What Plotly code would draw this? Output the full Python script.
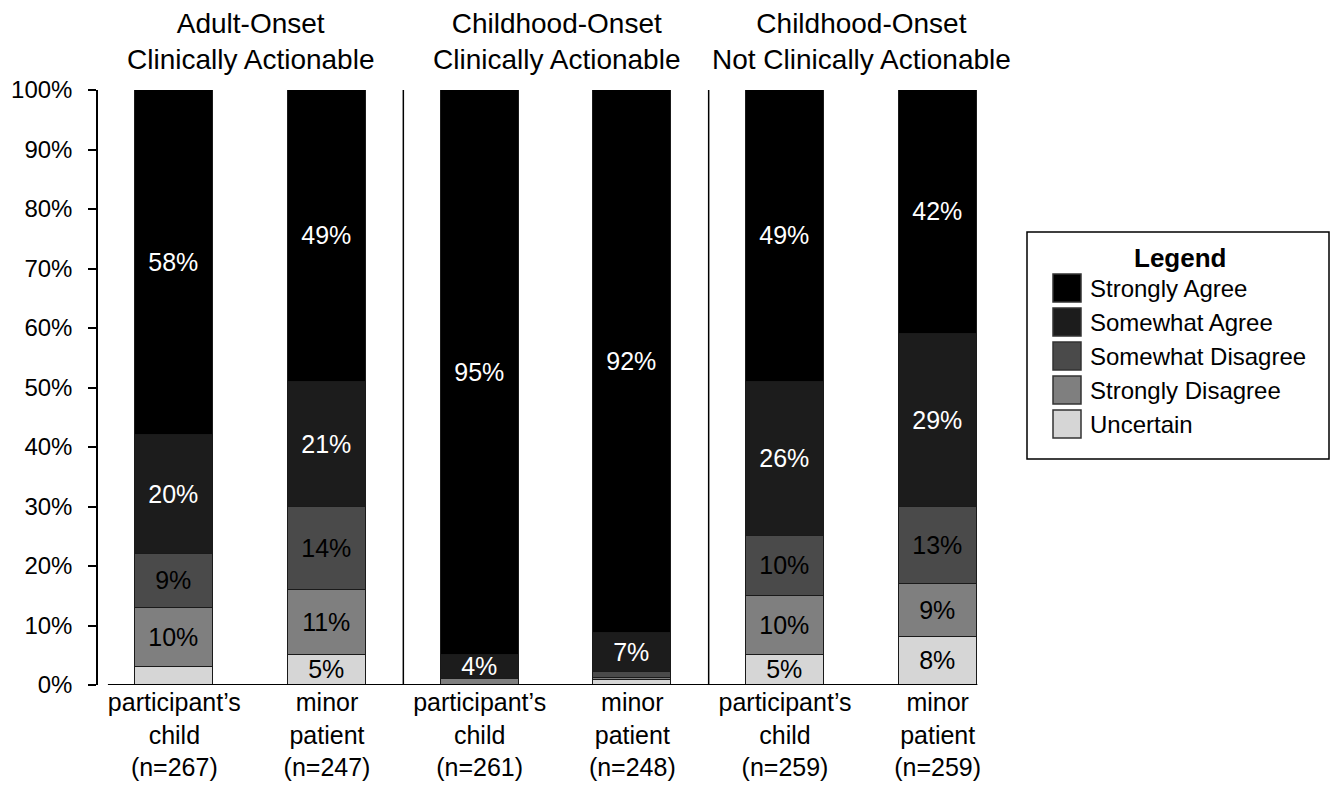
import plotly.graph_objects as go

# ---------------- data ----------------
categories = [
    "participant’s<br>child<br>(n=267)",
    "minor<br>patient<br>(n=247)",
    "participant’s<br>child<br>(n=261)",
    "minor<br>patient<br>(n=248)",
    "participant’s<br>child<br>(n=259)",
    "minor<br>patient<br>(n=259)",
]
group_titles = [
    "Adult-Onset<br>Clinically Actionable",
    "Childhood-Onset<br>Clinically Actionable",
    "Childhood-Onset<br>Not Clinically Actionable",
]
series_names = ["Uncertain", "Strongly Disagree", "Somewhat Disagree",
                "Somewhat Agree", "Strongly Agree"]

uncertain = [3, 5, 0, 0.8, 5, 8]
strongly_disagree = [10, 11, 1, 0.4, 10, 9]
somewhat_disagree = [9, 14, 0, 1, 10, 13]
somewhat_agree = [20, 21, 4, 6.5, 26, 29]
strongly_agree = [58, 49, 95, 91.3, 49, 41]

uncertain_labels = ["", "5%", "", "", "5%", "8%"]
strongly_disagree_labels = ["10%", "11%", "", "", "10%", "9%"]
somewhat_disagree_labels = ["9%", "14%", "", "", "10%", "13%"]
somewhat_agree_labels = ["20%", "21%", "4%", "7%", "26%", "29%"]
strongly_agree_labels = ["58%", "49%", "95%", "92%", "49%", "42%"]

y_ticks = [0, 10, 20, 30, 40, 50, 60, 70, 80, 90, 100]

# ---------------- styles ----------------
FONT = "Liberation Sans, Arial, sans-serif"
colors = ["#d6d6d6", "#7f7f7f", "#4a4a4a", "#1c1c1c", "#000000"]
text_colors = ["black", "black", "black", "white", "white"]
values = [uncertain, strongly_disagree, somewhat_disagree, somewhat_agree, strongly_agree]
labels = [uncertain_labels, strongly_disagree_labels, somewhat_disagree_labels,
          somewhat_agree_labels, strongly_agree_labels]

xpos = list(range(len(categories)))

fig = go.Figure()
for name, vals, lab, col, tcol in zip(series_names, values, labels, colors, text_colors):
    fig.add_trace(go.Bar(
        x=xpos, y=vals, name=name,
        marker=dict(color=col, line=dict(color="#1a1a1a", width=1.5)),
        width=0.51,
        text=lab, textposition="inside", insidetextanchor="middle",
        textfont=dict(color=tcol, size=25, family=FONT),
        hoverinfo="skip", showlegend=False,
    ))

# group separators
for xs in [1.5, 3.5]:
    fig.add_shape(type="line", xref="x", yref="y", x0=xs, x1=xs, y0=0, y1=100.5,
                  line=dict(color="black", width=1.5))
# x axis baseline
fig.add_shape(type="line", xref="x", yref="y", x0=-0.435, x1=5.26, y0=0, y1=0,
              line=dict(color="black", width=2))

for i, t in enumerate(group_titles):
    fig.add_annotation(text=t, x=2 * i + 0.5, xref="x", y=1, yref="paper",
                       yanchor="bottom", yshift=13, showarrow=False,
                       font=dict(size=28, family=FONT, color="black"))

# ---------------- legend (drawn in paper coordinates) ----------------
PW, PH, L, B = 916.0, 595.0, 98.0, 685.0


def px(xp):
    return (xp - L) / PW


def py(yp):
    return (B - yp) / PH


fig.add_shape(type="rect", xref="paper", yref="paper",
              x0=px(1027), x1=px(1329), y0=py(459), y1=py(232),
              line=dict(color="black", width=1.5), fillcolor="white")
fig.add_annotation(text="<b>Legend</b>", xref="paper", yref="paper",
                   x=px(1180), y=py(258), xanchor="center", yanchor="middle",
                   showarrow=False, font=dict(size=26, family=FONT, color="black"))
legend_order = list(reversed(range(len(series_names))))
for k, idx in enumerate(legend_order):
    cy = 288 + 34 * k
    fig.add_shape(type="rect", xref="paper", yref="paper",
                  x0=px(1053), x1=px(1081), y0=py(cy + 14), y1=py(cy - 14),
                  line=dict(color="#333333", width=1.5), fillcolor=colors[idx])
    fig.add_annotation(text=series_names[idx], xref="paper", yref="paper",
                       x=px(1088), y=py(cy), xanchor="left", yanchor="middle",
                       showarrow=False,
                       font=dict(size=24, family=FONT, color="black"))

fig.update_layout(
    barmode="stack",
    width=1336, height=785,
    margin=dict(l=98, r=322, t=90, b=100, autoexpand=False),
    paper_bgcolor="white", plot_bgcolor="white",
    font=dict(family=FONT, color="black", size=22),
    uniformtext=dict(minsize=25, mode="show"),
    bargap=0,
    showlegend=False,
    xaxis=dict(
        tickmode="array", tickvals=xpos, ticktext=categories,
        range=[-0.5, 5.5], showline=False, ticks="", showgrid=False,
        zeroline=False, tickfont=dict(size=25, family=FONT), automargin=False,
    ),
    yaxis=dict(
        range=[0, 100], tickmode="array", tickvals=y_ticks,
        ticktext=[f"{v}%" for v in y_ticks],
        showline=True, linecolor="black", linewidth=1.5,
        ticks="outside", ticklen=8, tickcolor="black", tickwidth=1.5,
        showgrid=False, zeroline=False, ticklabelstandoff=11,
        tickfont=dict(size=24, family=FONT), automargin=False,
    ),
)

fig.write_html("out.html")
